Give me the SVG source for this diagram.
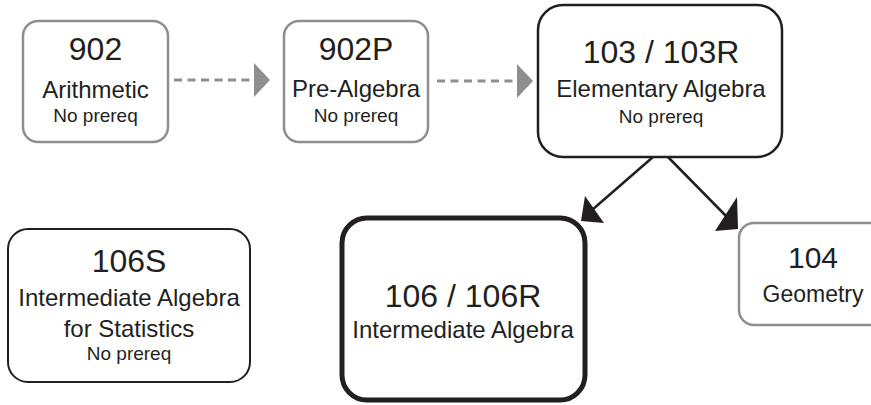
<svg xmlns="http://www.w3.org/2000/svg" width="871" height="405" viewBox="0 0 871 405">
<style>
  .box{fill:#fff;}
  .gray{stroke:#8e8e8e;stroke-width:2.5;}
  .blk{stroke:#231f20;}
  text{font-family:"Liberation Sans",Arial,sans-serif;fill:#231f20;text-anchor:middle;}
  .t{font-size:32px;}
  .s{font-size:24px;}
  .n{font-size:19px;}
  .dash{stroke:#8e8e8e;stroke-width:3;stroke-dasharray:8 5.5;fill:none;}
  .line{stroke:#231f20;stroke-width:2.5;fill:none;}
</style>
<rect width="871" height="405" fill="#fff"/>
<g id="connectors">
  <line class="dash" x1="174" y1="80" x2="253" y2="80"/>
  <polygon points="254,63 270,80 254,97" fill="#8e8e8e"/>
  <line class="dash" x1="437" y1="81" x2="516" y2="81"/>
  <polygon points="517,64 533,81 517,98" fill="#8e8e8e"/>
  <line class="line" x1="653" y1="157" x2="592" y2="210"/>
  <polygon points="581,221 585,196 604,223" fill="#231f20"/>
  <line class="line" x1="668" y1="157" x2="728" y2="218"/>
  <polygon points="738,229 737,197 715,231" fill="#231f20"/>
</g>
<g id="n902">
  <rect class="box gray" x="23" y="21" width="145" height="121" rx="15"/>
  <text class="t" x="95.5" y="60">902</text>
  <text class="s" x="95.5" y="98">Arithmetic</text>
  <text class="n" x="95.5" y="122">No prereq</text>
</g>
<g id="n902P">
  <rect class="box gray" x="284" y="21" width="144" height="121" rx="15"/>
  <text class="t" x="356" y="60">902P</text>
  <text class="s" x="356" y="97">Pre-Algebra</text>
  <text class="n" x="356" y="122">No prereq</text>
</g>
<g id="n103">
  <rect class="box blk" stroke-width="2.5" x="538" y="5" width="244" height="152" rx="25"/>
  <text class="t" x="661" y="63">103 / 103R</text>
  <text class="s" x="661" y="97">Elementary Algebra</text>
  <text class="n" x="661" y="123">No prereq</text>
</g>
<g id="n106S">
  <rect class="box blk" stroke-width="2" x="8" y="229" width="242" height="153" rx="20"/>
  <text class="t" x="129" y="272">106S</text>
  <text class="s" x="129" y="306">Intermediate Algebra</text>
  <text class="s" x="129" y="337">for Statistics</text>
  <text class="n" x="129" y="360">No prereq</text>
</g>
<g id="n106">
  <rect class="box blk" stroke-width="5" x="342" y="218" width="243" height="182" rx="25"/>
  <text class="t" x="463" y="307">106 / 106R</text>
  <text class="s" x="463" y="338">Intermediate Algebra</text>
</g>
<g id="n104">
  <rect class="box gray" x="739" y="223" width="148" height="102" rx="15"/>
  <text x="813" y="268" font-size="30">104</text>
  <text x="813" y="302" font-size="23">Geometry</text>
</g>
</svg>
